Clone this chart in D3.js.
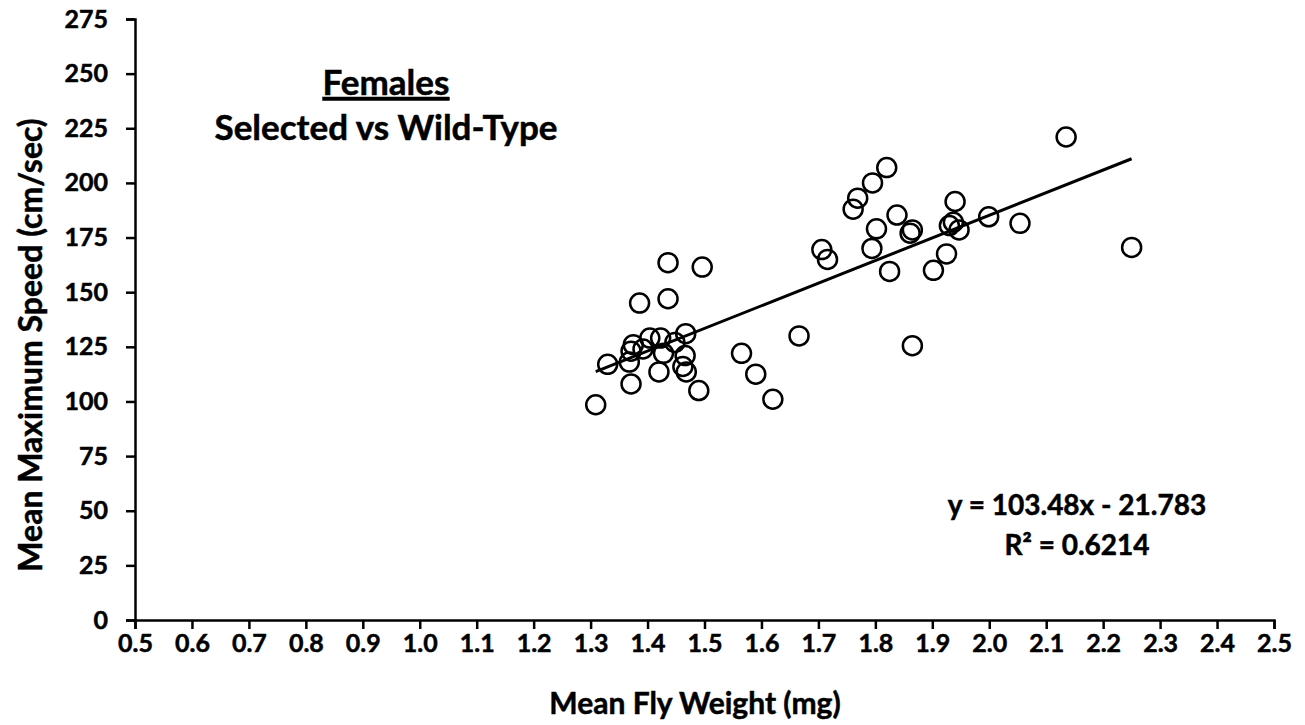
<!DOCTYPE html>
<html lang="en">
<head>
  <meta charset="UTF-8" />
  <title>Females - Selected vs Wild-Type</title>
  <script src="https://d3js.org/d3.v7.min.js"></script>
  <style>
    body { margin: 0; background: #fff; font-family: Lato, "Open Sans", sans-serif; font-weight: bold; }
    svg text { fill: #000; font-weight: bold; font-family: Lato, sans-serif; stroke: #000; stroke-width: 0.5px; }
    .axis path, .axis line { stroke: #000; stroke-width: 2.5px; }
  </style>
</head>
<body>
<svg width="1305" height="725"></svg>
<script>
  // mean fly weight (mg) / mean max speed (cm/sec)
  const weight = [
    1.309, 1.330, 1.371, 1.368, 1.371, 1.375, 1.386, 1.392, 1.404, 1.420,
    1.423, 1.428, 1.436, 1.436, 1.448, 1.466, 1.467, 1.462, 1.468, 1.490,
    1.496, 1.565, 1.590, 1.620, 1.666, 1.706, 1.716, 1.761, 1.769, 1.795,
    1.820, 1.794, 1.802, 1.825, 1.838, 1.861, 1.865, 1.865, 1.902, 1.925,
    1.940, 1.930, 1.937, 1.947, 1.999, 2.054, 2.135, 2.250
  ];
  const speed = [
    98.5, 117, 108, 118, 123, 126, 145, 124, 129, 113.5,
    129, 122, 163.5, 147, 127, 121, 131, 116, 113.5, 105,
    161.5, 122, 112.5, 101, 130, 169.5, 165, 188, 193, 200,
    207, 170, 179, 159.5, 185.3, 177, 178.5, 125.5, 160, 167.5,
    191.5, 180.5, 182, 178.5, 184.5, 181.5, 221, 170.5
  ];
  const xTicks = d3.range(0.5, 2.501, 0.1);
  const yTicks = d3.range(0, 276, 25);
  const slope = 103.48, intercept = -21.783, r2 = 0.6214;

  const svg = d3.select("svg");
  const x = d3.scaleLinear().domain([0.5, 2.5]).range([135, 1274]);
  const y = d3.scaleLinear().domain([0, 275]).range([620, 19]);

  // axes
  const gx = svg.append("g").attr("class", "axis")
    .attr("transform", "translate(0,620)")
    .call(d3.axisBottom(x).tickValues(xTicks).tickFormat(d3.format(".1f")).tickSizeOuter(0).tickSize(9).tickPadding(5));
  const gy = svg.append("g").attr("class", "axis")
    .attr("transform", "translate(135,0)")
    .call(d3.axisLeft(y).tickValues(yTicks).tickSizeOuter(0).tickSize(9).tickPadding(18));
  gx.attr("font-size", 25);
  gy.attr("font-size", 25);
  gx.selectAll("text").style("font-size", "25px");
  gy.selectAll("text").style("font-size", "25px");

  // points
  const pts = weight.map((w, i) => [w, speed[i]]);
  svg.append("g").selectAll("circle")
    .data(pts)
    .join("circle")
    .attr("cx", d => x(d[0]))
    .attr("cy", d => y(d[1]))
    .attr("r", 9.5)
    .attr("fill", "none")
    .attr("stroke", "#000")
    .attr("stroke-width", 2.5);

  // trend line
  const x0 = d3.min(weight), x1 = d3.max(weight);
  svg.append("line")
    .attr("x1", x(x0)).attr("y1", y(slope * x0 + intercept))
    .attr("x2", x(x1)).attr("y2", y(slope * x1 + intercept))
    .attr("stroke", "#000").attr("stroke-width", 3);

  // titles
  svg.append("text").attr("x", 386).attr("y", 95).attr("text-anchor", "middle")
    .style("font-size", "35px").style("text-decoration", "underline").text("Females");
  svg.append("text").attr("x", 386).attr("y", 140).attr("text-anchor", "middle")
    .style("font-size", "35px").text("Selected vs Wild-Type");

  svg.append("text").attr("x", 1077).attr("y", 515).attr("text-anchor", "middle")
    .style("font-size", "28px").text("y = " + slope + "x - " + Math.abs(intercept));
  svg.append("text").attr("x", 1077).attr("y", 555).attr("text-anchor", "middle")
    .style("font-size", "28px").text("R² = " + r2);

  svg.append("text").attr("x", 695).attr("y", 714).attr("text-anchor", "middle")
    .style("font-size", "30px").text("Mean Fly Weight (mg)");
  svg.append("text").attr("transform", "translate(42,345) rotate(-90)").attr("text-anchor", "middle")
    .style("font-size", "32px").text("Mean Maximum  Speed (cm/sec)");
</script>
</body>
</html>
